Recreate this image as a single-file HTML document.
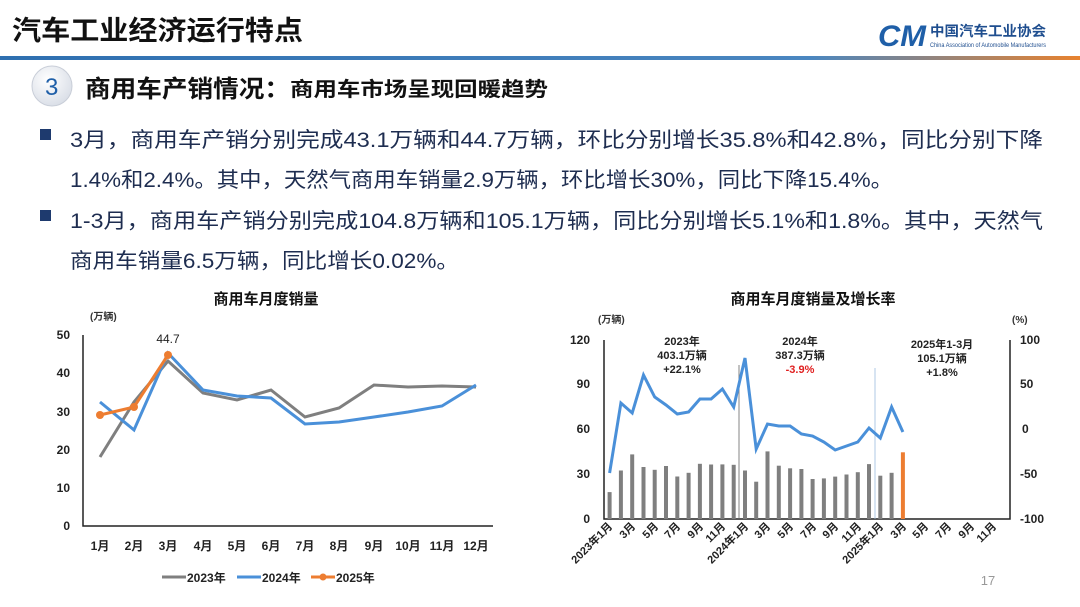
<!DOCTYPE html>
<html><head><meta charset="utf-8"><style>
html,body{margin:0;padding:0;background:#fff;}
svg{display:block;font-family:"Liberation Sans","Noto Sans CJK SC",sans-serif;}
</style></head><body>
<svg width="1080" height="607" viewBox="0 0 1080 607" xmlns="http://www.w3.org/2000/svg">
<defs>
<linearGradient id="g1" x1="0" x2="1"><stop offset="0" stop-color="#2e6fb0"/><stop offset="0.75" stop-color="#4a86c0"/><stop offset="1" stop-color="#e8822e"/></linearGradient>
<radialGradient id="cg" cx="0.4" cy="0.35" r="0.7"><stop offset="0" stop-color="#fff"/><stop offset="1" stop-color="#d8dde6"/></radialGradient>
</defs>
<text x="12" y="40" font-size="27" font-weight="bold" fill="#111" textLength="291" lengthAdjust="spacingAndGlyphs">汽车工业经济运行特点</text>
<text x="878" y="46" font-size="30" font-weight="bold" font-style="italic" fill="#1f5fa8" textLength="48" lengthAdjust="spacingAndGlyphs">CM</text>
<text x="930" y="36" font-size="14" font-weight="bold" fill="#1f4e8f" textLength="116" lengthAdjust="spacingAndGlyphs">中国汽车工业协会</text>
<text x="930" y="47" font-size="6" fill="#1f4e8f" textLength="116" lengthAdjust="spacingAndGlyphs">China Association of Automobile Manufacturers</text>
<rect x="0" y="56" width="1080" height="4" fill="url(#g1)"/>
<circle cx="52" cy="86" r="20" fill="url(#cg)" stroke="#c9ced8"/>
<text x="45" y="95" font-size="24" fill="#1f5fa8">3</text>
<text x="85" y="97" font-size="24" font-weight="bold" fill="#111" textLength="205" lengthAdjust="spacingAndGlyphs">商用车产销情况：</text>
<text x="290" y="96" font-size="20" font-weight="bold" fill="#111" textLength="258" lengthAdjust="spacingAndGlyphs">商用车市场呈现回暖趋势</text>
<g fill="#1e2d50" font-size="21">
<rect x="40" y="129" width="11" height="11" fill="#1e3a6e"/>
<text x="70" y="147" textLength="973" lengthAdjust="spacingAndGlyphs">3月，商用车产销分别完成43.1万辆和44.7万辆，环比分别增长35.8%和42.8%，同比分别下降</text>
<text x="70" y="187" textLength="823" lengthAdjust="spacingAndGlyphs">1.4%和2.4%。其中，天然气商用车销量2.9万辆，环比增长30%，同比下降15.4%。</text>
<rect x="40" y="210" width="11" height="11" fill="#1e3a6e"/>
<text x="70" y="228" textLength="973" lengthAdjust="spacingAndGlyphs">1-3月，商用车产销分别完成104.8万辆和105.1万辆，同比分别增长5.1%和1.8%。其中，天然气</text>
<text x="70" y="268" textLength="389" lengthAdjust="spacingAndGlyphs">商用车销量6.5万辆，同比增长0.02%。</text>
</g>
<!-- Left chart -->
<text x="266" y="304" font-size="15" font-weight="bold" fill="#111" text-anchor="middle">商用车月度销量</text>
<text x="90" y="320" font-size="10" font-weight="bold" fill="#333">(万辆)</text>
<g font-size="12" font-weight="bold" fill="#222" text-anchor="end">
<text x="70" y="530">0</text><text x="70" y="492">10</text><text x="70" y="454">20</text><text x="70" y="416">30</text><text x="70" y="377">40</text><text x="70" y="339">50</text>
</g>
<path d="M83 335V526H493" stroke="#222" stroke-width="1.5" fill="none"/>
<g font-size="12" font-weight="bold" fill="#222" text-anchor="middle">
<text x="100" y="550">1月</text><text x="134" y="550">2月</text><text x="168" y="550">3月</text><text x="203" y="550">4月</text><text x="237" y="550">5月</text><text x="271" y="550">6月</text><text x="305" y="550">7月</text><text x="339" y="550">8月</text><text x="374" y="550">9月</text><text x="408" y="550">10月</text><text x="442" y="550">11月</text><text x="476" y="550">12月</text>
</g>
<polyline fill="none" stroke="#7f7f7f" stroke-width="3" points="100,457 134,402 168,361 203,393 237,400 271,390 305,417 339,408 374,385 408,387 442,386 476,387"/>
<polyline fill="none" stroke="#4a90d9" stroke-width="3" points="100,402 134,430 168,353 203,390 237,396 271,398 305,424 339,422 374,417 408,412 442,406 476,385"/>
<polyline fill="none" stroke="#ed7d31" stroke-width="3" points="100,415 134,407 168,355"/>
<g fill="#ed7d31"><circle cx="100" cy="415" r="4"/><circle cx="134" cy="407" r="4"/><circle cx="168" cy="355" r="4"/></g>
<text x="168" y="343" font-size="12" fill="#222" text-anchor="middle">44.7</text>
<g font-size="12" font-weight="bold" fill="#222">
<line x1="162" y1="577" x2="186" y2="577" stroke="#7f7f7f" stroke-width="3"/><text x="187" y="582">2023年</text>
<line x1="237" y1="577" x2="261" y2="577" stroke="#4a90d9" stroke-width="3"/><text x="262" y="582">2024年</text>
<line x1="311" y1="577" x2="335" y2="577" stroke="#ed7d31" stroke-width="3"/><circle cx="323" cy="577" r="3.5" fill="#ed7d31"/><text x="336" y="582">2025年</text>
</g>
<!-- Right chart -->
<text x="813" y="304" font-size="15" font-weight="bold" fill="#111" text-anchor="middle">商用车月度销量及增长率</text>
<text x="598" y="323" font-size="10" font-weight="bold" fill="#333">(万辆)</text>
<text x="1012" y="323" font-size="10" font-weight="bold" fill="#333">(%)</text>
<g font-size="12" font-weight="bold" fill="#222" text-anchor="end">
<text x="590" y="523">0</text><text x="590" y="478">30</text><text x="590" y="433">60</text><text x="590" y="388">90</text><text x="590" y="344">120</text>
</g>
<g font-size="12" font-weight="bold" fill="#222">
<text x="1020" y="523">-100</text><text x="1020" y="478">-50</text><text x="1022" y="433">0</text><text x="1020" y="388">50</text><text x="1020" y="344">100</text>
</g>
<path d="M604 340V519H1010V340" stroke="#222" stroke-width="1.5" fill="none"/>
<line x1="739" y1="365" x2="739" y2="519" stroke="#666" stroke-width="0.8"/>
<line x1="875" y1="368" x2="875" y2="519" stroke="#9bbbe0" stroke-width="0.8"/>
<g fill="#7f7f7f">
<rect x="607.6" y="492.1" width="4" height="26.9"/><rect x="618.9" y="470.5" width="4" height="48.5"/><rect x="630.2" y="454.4" width="4" height="64.6"/><rect x="641.5" y="467" width="4" height="52"/><rect x="652.7" y="469.8" width="4" height="49.2"/><rect x="664" y="466" width="4" height="53"/><rect x="675.3" y="476.5" width="4" height="42.5"/><rect x="686.6" y="472.8" width="4" height="46.2"/><rect x="697.9" y="463.8" width="4" height="55.2"/><rect x="709.1" y="464.5" width="4" height="54.5"/><rect x="720.4" y="464.4" width="4" height="54.6"/><rect x="731.7" y="464.8" width="4" height="54.2"/>
<rect x="743" y="470.5" width="4" height="48.5"/><rect x="754.2" y="481.7" width="4" height="37.3"/><rect x="765.5" y="451.4" width="4" height="67.6"/><rect x="776.8" y="465.7" width="4" height="53.3"/><rect x="788.1" y="468.3" width="4" height="50.7"/><rect x="799.4" y="469" width="4" height="50"/><rect x="810.6" y="479" width="4" height="40"/><rect x="821.9" y="478.4" width="4" height="40.6"/><rect x="833.2" y="476.6" width="4" height="42.4"/><rect x="844.5" y="474.5" width="4" height="44.5"/><rect x="855.8" y="472.2" width="4" height="46.8"/><rect x="867" y="464.1" width="4" height="54.9"/>
<rect x="878.3" y="475.7" width="4" height="43.3"/><rect x="889.6" y="472.8" width="4" height="46.2"/>
<rect x="900.9" y="452.3" width="4" height="66.7" fill="#ed7d31"/>
</g>
<polyline fill="none" stroke="#4a90d9" stroke-width="3" points="609.6,473 620.9,403 632.2,413 643.5,375 654.7,397 666,405 677.3,414 688.6,412 699.9,399 711.1,399 722.4,389 733.7,407 745,358 756.2,449 767.5,424 778.8,426 790.1,426 801.4,434 812.6,436 823.9,442 835.2,450 846.5,446 857.8,442 869,428 880.3,438 891.6,407 902.9,432"/>
<g font-size="11" font-weight="bold" fill="#222" text-anchor="middle">
<text x="682" y="345">2023年</text><text x="682" y="359">403.1万辆</text><text x="682" y="373">+22.1%</text>
<text x="800" y="345">2024年</text><text x="800" y="359">387.3万辆</text><text x="800" y="373" fill="#e02020">-3.9%</text>
<text x="942" y="348">2025年1-3月</text><text x="942" y="362">105.1万辆</text><text x="942" y="376">+1.8%</text>
</g>
<g font-size="11" font-weight="bold" fill="#222" text-anchor="end">
<text transform="translate(613,527) rotate(-45)">2023年1月</text>
<text transform="translate(636,527) rotate(-45)">3月</text>
<text transform="translate(659,527) rotate(-45)">5月</text>
<text transform="translate(681,527) rotate(-45)">7月</text>
<text transform="translate(704,527) rotate(-45)">9月</text>
<text transform="translate(726,527) rotate(-45)">11月</text>
<text transform="translate(749,527) rotate(-45)">2024年1月</text>
<text transform="translate(771,527) rotate(-45)">3月</text>
<text transform="translate(794,527) rotate(-45)">5月</text>
<text transform="translate(817,527) rotate(-45)">7月</text>
<text transform="translate(839,527) rotate(-45)">9月</text>
<text transform="translate(862,527) rotate(-45)">11月</text>
<text transform="translate(884,527) rotate(-45)">2025年1月</text>
<text transform="translate(907,527) rotate(-45)">3月</text>
<text transform="translate(929,527) rotate(-45)">5月</text>
<text transform="translate(952,527) rotate(-45)">7月</text>
<text transform="translate(975,527) rotate(-45)">9月</text>
<text transform="translate(997,527) rotate(-45)">11月</text>
</g>
<text x="988" y="585" font-size="13" fill="#999" text-anchor="middle">17</text>
</svg>
</body></html>
